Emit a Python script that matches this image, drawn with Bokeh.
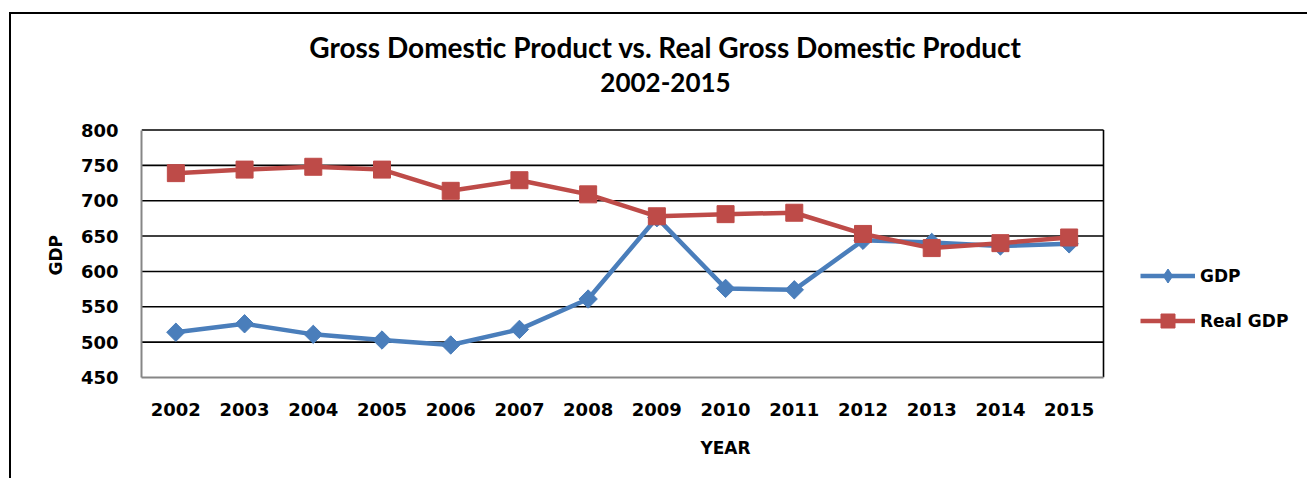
import numpy as np
from bokeh.plotting import figure
from bokeh.models import Range1d, FixedTicker, Legend, LegendItem, Label
from bokeh.embed import file_html
from bokeh.resources import INLINE

years = ["2002", "2003", "2004", "2005", "2006", "2007", "2008",
         "2009", "2010", "2011", "2012", "2013", "2014", "2015"]
gdp = [514, 526, 511, 503, 496, 518, 561, 676, 576, 574, 644, 641, 636, 639]
real_gdp = [739, 744, 748, 744, 714, 729, 709, 678, 681, 683, 653, 633, 640, 648]
y_ticks = [450, 500, 550, 600, 650, 700, 750, 800]

title1 = "Gross Domestic Product vs. Real Gross Domestic Product"
title2 = "2002-2015"

BLUE = "#4A7EBB"
RED = "#BE4B48"
FONT = "DejaVu Sans"
TFONT = "Lato"

# layout (pixels)
W, H = 1298, 466
LEFT, BOTTOM = 130, 103
PLOT_W, PLOT_H = 962, 247.5          # visible plotting box inside the frame
frame_w, frame_h = W - LEFT, H - BOTTOM

n = len(years)
xs = list(range(n))
x0 = -0.5
x1 = x0 + n * frame_w / PLOT_W
y0, y1_tick = y_ticks[0], y_ticks[-1]
y1 = y0 + (y1_tick - y0) * frame_h / PLOT_H

p = figure(x_range=Range1d(x0, x1), y_range=Range1d(y0, y1),
           width=W, height=H, output_backend="svg", toolbar_location=None,
           min_border_left=LEFT, min_border_top=0, min_border_bottom=BOTTOM,
           min_border_right=0)
p.styles = {"border-left": "2px solid black", "border-top": "2px solid black",
            "margin-left": "9px", "margin-top": "12px"}
p.title.visible = False
p.outline_line_color = None
p.xgrid.grid_line_color = None
p.ygrid.grid_line_color = None

# horizontal gridlines and right border of the plotting box
x_end = x0 + n
p.segment(x0=[x0] * (len(y_ticks) - 1), x1=[x_end] * (len(y_ticks) - 1),
          y0=y_ticks[1:], y1=y_ticks[1:], line_color="black", line_width=1.6)
p.segment(x0=[x_end], x1=[x_end], y0=[y0], y1=[y1_tick],
          line_color="black", line_width=1.6)

p.xaxis.ticker = FixedTicker(ticks=xs)
p.xaxis.major_label_overrides = {i: y for i, y in enumerate(years)}
p.xaxis.bounds = (x0, x_end)
p.yaxis.ticker = FixedTicker(ticks=y_ticks)
p.yaxis.bounds = (y0, y1_tick)
for ax in (p.xaxis[0], p.yaxis[0]):
    ax.axis_line_color = "#868686"
    ax.axis_line_width = 2
    ax.major_tick_line_color = None
    ax.minor_tick_line_color = None
    ax.major_tick_out = 0
    ax.major_tick_in = 0
    ax.major_label_text_font = FONT
    ax.major_label_text_font_style = "bold"
    ax.major_label_text_font_size = "18px"
    ax.major_label_text_color = "black"
    ax.axis_label_text_font = FONT
    ax.axis_label_text_font_style = "bold"
    ax.axis_label_text_font_size = "17px"
    ax.axis_label_text_color = "black"

p.yaxis.major_label_standoff = 23
# trailing no-break spaces move the label down to the centre of the plotting box
p.yaxis.axis_label = "GDP" + "\u00a0" * 20
p.yaxis.axis_label_standoff = 12
p.xaxis.major_label_standoff = 25
p.xaxis.axis_label = "YEAR"
p.xaxis.axis_label_standoff = 19

l1 = p.line(xs, gdp, line_color=BLUE, line_width=4.5)
m1b = p.scatter(xs, gdp, marker="diamond", size=17,
                fill_color=BLUE, line_color=BLUE)
m1 = p.scatter(xs, gdp, marker="square", angle=np.pi / 4, size=13,
               fill_color=BLUE, line_color=BLUE)
l2 = p.line(xs, real_gdp, line_color=RED, line_width=4.5)
m2 = p.scatter(xs, real_gdp, marker="square", size=17,
               fill_color=RED, line_color=RED)

legend = Legend(items=[LegendItem(label="GDP", renderers=[l1, m1b]),
                       LegendItem(label="Real GDP", renderers=[l2, m2])],
                location=(999, 39), orientation="vertical",
                glyph_width=55, glyph_height=35, label_height=35,
                spacing=10, padding=0, margin=0, label_standoff=5,
                border_line_color=None, background_fill_alpha=0,
                label_text_font=FONT, label_text_font_style="bold",
                label_text_font_size="17px", label_text_color="black")
p.add_layout(legend, "center")

for txt, yy, fs in ((title1, 331, "28px"), (title2, 295, "26px")):
    p.add_layout(Label(x=524, y=yy, x_units="screen", y_units="screen",
                       text=txt, text_align="center",
                       text_baseline="alphabetic",
                       text_font=TFONT, text_font_style="bold",
                       text_font_size=fs, text_color="black"))

open("out.html", "w").write(file_html(p, INLINE))
